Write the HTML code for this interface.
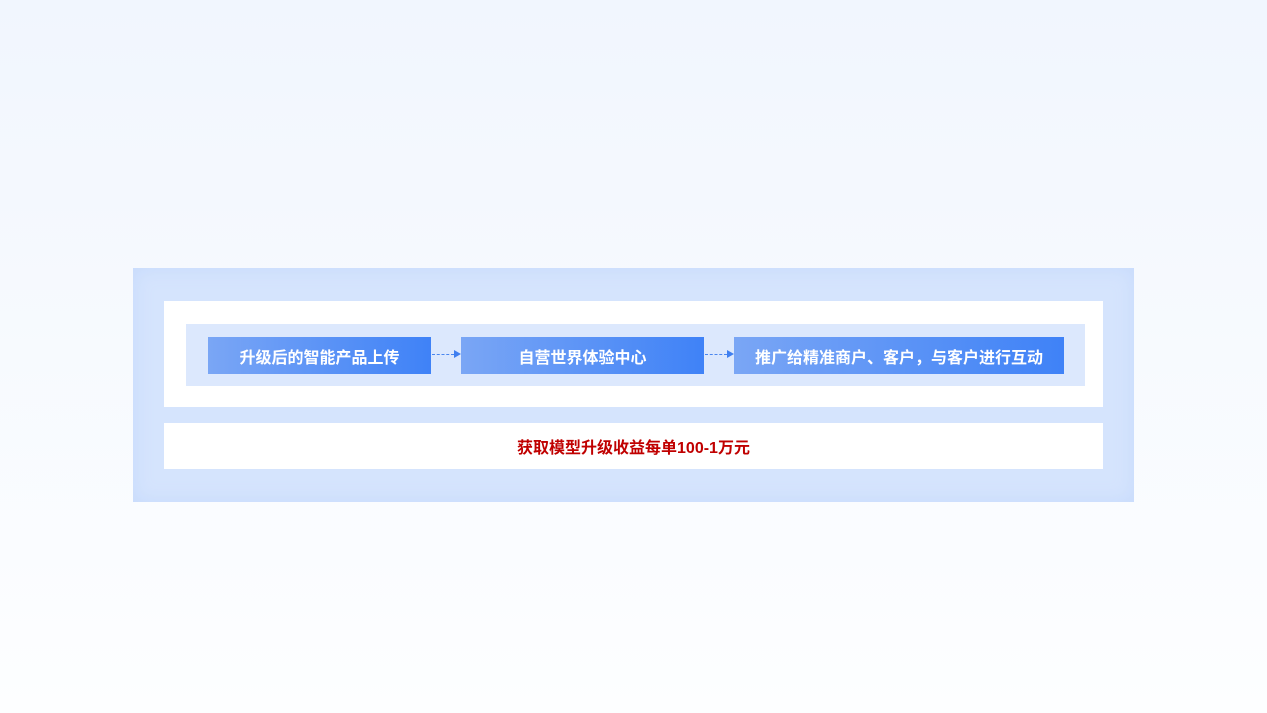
<!DOCTYPE html>
<html><head><meta charset="utf-8"><style>
body{margin:0;width:1267px;height:713px;overflow:hidden;background:linear-gradient(#f1f6fe,#fdfeff);font-family:"Liberation Sans","Noto Sans CJK SC",sans-serif;position:relative}
div{position:absolute;box-sizing:border-box}
.outer{left:133px;top:268px;width:1001px;height:234px;background:#d5e4fd;box-shadow:inset 0 0 20px #c6dafc}
.w{background:#fff}
.band{left:186px;top:324px;width:899px;height:62px;background:#dce8fd}
.b{top:337px;height:37px;background:linear-gradient(90deg,#7aa6f5,#3f82f7);color:#fff;font-weight:bold;font-size:16px;display:flex;align-items:center;justify-content:center}
.arr{top:354px;height:0;border-top:1px dashed #4a86ef}
.ah{top:350px;width:0;height:0;border-left:7px solid #3f7ff0;border-top:4px solid transparent;border-bottom:4px solid transparent}
</style></head><body>
<div class="outer"></div>
<div class="w" style="left:164px;top:301px;width:939px;height:106px"></div>
<div class="band"></div>
<div class="b" style="left:208px;width:223px">升级后的智能产品上传</div>
<div class="arr" style="left:432px;width:22px"></div><div class="ah" style="left:454px"></div>
<div class="b" style="left:461px;width:243px">自营世界体验中心</div>
<div class="arr" style="left:705px;width:22px"></div><div class="ah" style="left:727px"></div>
<div class="b" style="left:734px;width:330px">推广给精准商户、客户，与客户进行互动</div>
<div class="w" style="left:164px;top:423px;width:939px;height:46px;display:flex;align-items:center;justify-content:center;color:#c00000;font-weight:bold;font-size:16px">获取模型升级收益每单100-1万元</div>
</body></html>
